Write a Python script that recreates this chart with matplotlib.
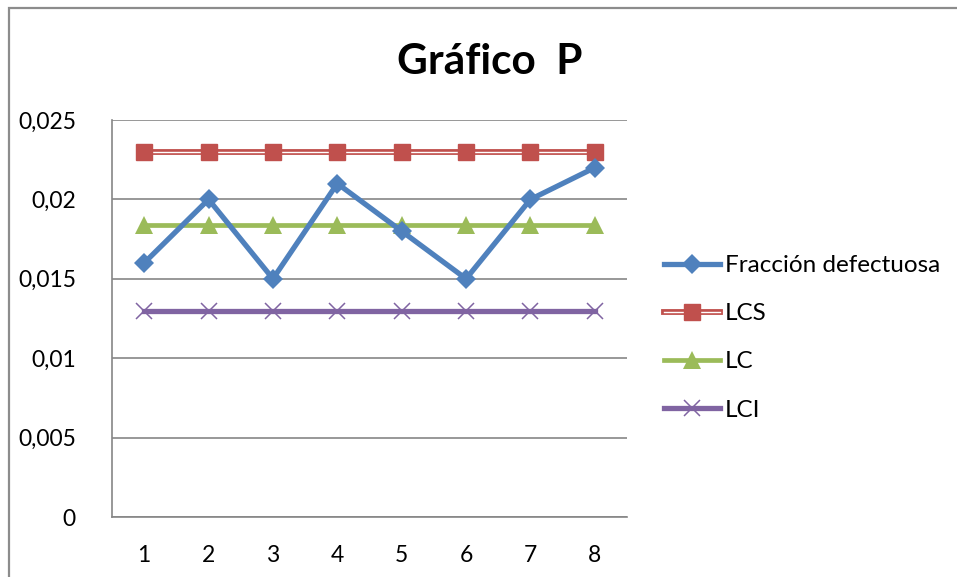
import matplotlib
matplotlib.use("Agg")
import matplotlib.pyplot as plt
import matplotlib.patheffects as pe
from matplotlib.patches import Rectangle
from matplotlib.ticker import FuncFormatter

plt.rcParams['font.family'] = ['Lato', 'DejaVu Sans']

muestras = [1, 2, 3, 4, 5, 6, 7, 8]
fraccion = [0.016, 0.020, 0.015, 0.021, 0.018, 0.015, 0.020, 0.022]
lcs = [0.023] * 8
lc = [0.018375] * 8
lci = [0.013] * 8
y_ticks = [0, 0.005, 0.01, 0.015, 0.02, 0.025]

blue = '#4F81BD'
red = '#C0504D'
green = '#9BBB59'
purple = '#8064A2'
grid_gray = '#868686'

fig = plt.figure(figsize=(9.57, 5.77), dpi=100)
ax = fig.add_axes([112 / 957, 1 - 517 / 577, 515 / 957, 397 / 577])

# chart frame
fig.patches.append(Rectangle((9 / 957, -0.1), 1.2, 0.1 + (1 - 8 / 577),
                             transform=fig.transFigure, fill=False,
                             edgecolor='#8c8c8c', linewidth=1.6, zorder=0))

# LCS: double line
ax.plot(muestras, lcs, color='white', linewidth=1.0, zorder=3,
        path_effects=[pe.Stroke(linewidth=4.2, foreground=red), pe.Normal()])
lcs_mk, = ax.plot(muestras, lcs, linestyle='none', marker='s', markersize=12,
                  color=red, markeredgecolor=red, zorder=4)
lcs_ln = plt.Line2D([], [], color='white', linewidth=1.0,
                    path_effects=[pe.Stroke(linewidth=4.2, foreground=red), pe.Normal()])

# LC
lc_ln, = ax.plot(muestras, lc, color=green, linewidth=3.4, marker='^',
                 markersize=13, markeredgewidth=0, zorder=3)

# LCI
ax.plot(muestras, lci, color=purple, linewidth=3.8, zorder=3)
ax.plot(muestras, lci, linestyle='none', marker='x', markersize=12,
        markeredgewidth=1.1, color=purple, zorder=4)
lci_ln = plt.Line2D([], [], color=purple, linewidth=3.8, marker='x',
                    markersize=12, markeredgewidth=1.1)

# Fracción defectuosa
fr_ln, = ax.plot(muestras, fraccion, color=blue, linewidth=3.8, marker='D',
                 markersize=10.5, markeredgewidth=0, zorder=5)

ax.set_xlim(0.5, 8.5)
ax.set_ylim(0, 0.025)
ax.set_xticks(muestras)
ax.set_yticks(y_ticks)
ax.yaxis.set_major_formatter(FuncFormatter(
    lambda v, p: '0' if v == 0 else ('%g' % v).replace('.', ',')))
ax.tick_params(axis='both', length=0, labelsize=16.5, colors='black')
ax.tick_params(axis='y', pad=26)
ax.tick_params(axis='x', pad=20)
ax.grid(axis='y', color=grid_gray, linewidth=1.2)
ax.set_axisbelow(True)
for s in ['top', 'right']:
    ax.spines[s].set_visible(False)
for s in ['left', 'bottom']:
    ax.spines[s].set_color(grid_gray)
    ax.spines[s].set_linewidth(1.2)

fig.text(490 / 957, 1 - 62 / 577, 'Gráfico  P', ha='center', va='center',
         fontsize=30.5, fontweight='bold')

leg = fig.legend([fr_ln, (lcs_ln, lcs_mk), lc_ln, lci_ln],
                 ['Fracción defectuosa', 'LCS', 'LC', 'LCI'],
                 loc='upper left', bbox_to_anchor=(664 / 957, 1 - 255 / 577),
                 frameon=False, fontsize=17.5, handlelength=2.3,
                 handletextpad=0.2, labelspacing=1.12, borderaxespad=0,
                 borderpad=0)

fig.savefig('out.png', dpi=100)
